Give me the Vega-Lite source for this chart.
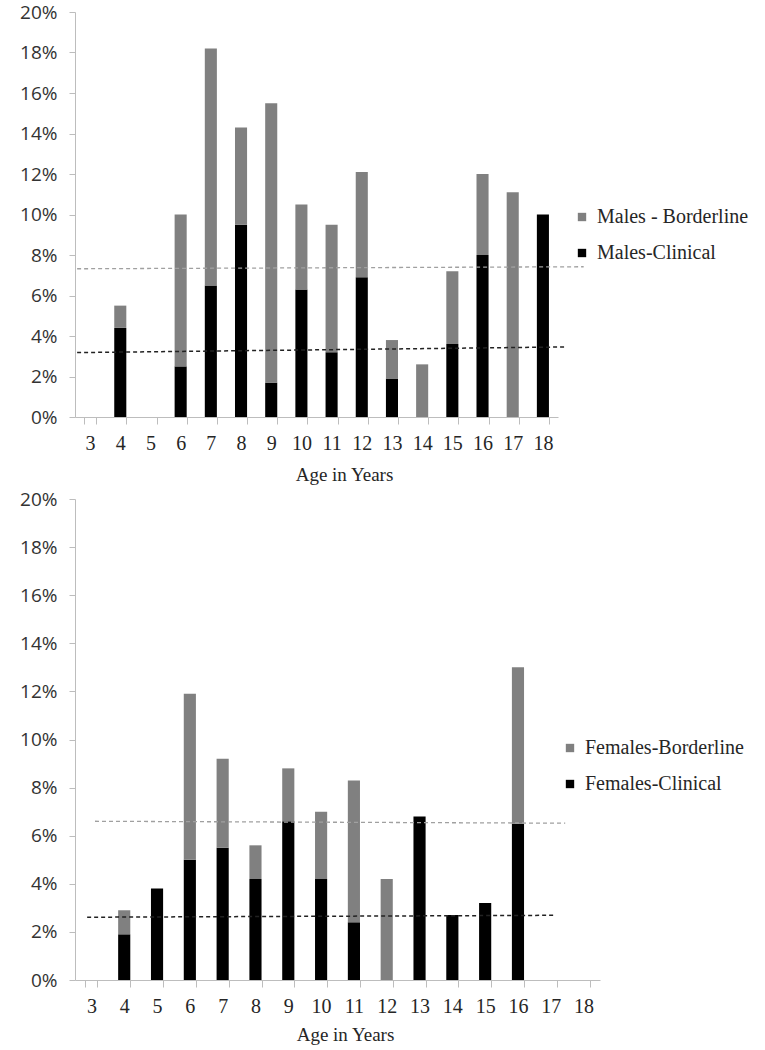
{
  "$schema": "https://vega.github.io/schema/vega-lite/v6.json",
  "padding": {"left": 5, "top": 3, "right": 5, "bottom": 3},
  "background": "white",
  "datasets": {
    "bars": [
      {"sex": "M", "age": 4, "cat": "Males-Clinical", "ord": 0, "pct": 4.4},
      {"sex": "M", "age": 4, "cat": "Males - Borderline", "ord": 1, "pct": 1.1},
      {"sex": "M", "age": 6, "cat": "Males-Clinical", "ord": 0, "pct": 2.5},
      {"sex": "M", "age": 6, "cat": "Males - Borderline", "ord": 1, "pct": 7.5},
      {"sex": "M", "age": 7, "cat": "Males-Clinical", "ord": 0, "pct": 6.5},
      {"sex": "M", "age": 7, "cat": "Males - Borderline", "ord": 1, "pct": 11.7},
      {"sex": "M", "age": 8, "cat": "Males-Clinical", "ord": 0, "pct": 9.5},
      {"sex": "M", "age": 8, "cat": "Males - Borderline", "ord": 1, "pct": 4.8},
      {"sex": "M", "age": 9, "cat": "Males-Clinical", "ord": 0, "pct": 1.7},
      {"sex": "M", "age": 9, "cat": "Males - Borderline", "ord": 1, "pct": 13.8},
      {"sex": "M", "age": 10, "cat": "Males-Clinical", "ord": 0, "pct": 6.3},
      {"sex": "M", "age": 10, "cat": "Males - Borderline", "ord": 1, "pct": 4.2},
      {"sex": "M", "age": 11, "cat": "Males-Clinical", "ord": 0, "pct": 3.2},
      {"sex": "M", "age": 11, "cat": "Males - Borderline", "ord": 1, "pct": 6.3},
      {"sex": "M", "age": 12, "cat": "Males-Clinical", "ord": 0, "pct": 6.9},
      {"sex": "M", "age": 12, "cat": "Males - Borderline", "ord": 1, "pct": 5.2},
      {"sex": "M", "age": 13, "cat": "Males-Clinical", "ord": 0, "pct": 1.9},
      {"sex": "M", "age": 13, "cat": "Males - Borderline", "ord": 1, "pct": 1.9},
      {"sex": "M", "age": 14, "cat": "Males - Borderline", "ord": 1, "pct": 2.6},
      {"sex": "M", "age": 15, "cat": "Males-Clinical", "ord": 0, "pct": 3.6},
      {"sex": "M", "age": 15, "cat": "Males - Borderline", "ord": 1, "pct": 3.6},
      {"sex": "M", "age": 16, "cat": "Males-Clinical", "ord": 0, "pct": 8.0},
      {"sex": "M", "age": 16, "cat": "Males - Borderline", "ord": 1, "pct": 4.0},
      {"sex": "M", "age": 17, "cat": "Males - Borderline", "ord": 1, "pct": 11.1},
      {"sex": "M", "age": 18, "cat": "Males-Clinical", "ord": 0, "pct": 10.0},
      {"sex": "F", "age": 4, "cat": "Females-Clinical", "ord": 0, "pct": 1.9},
      {"sex": "F", "age": 4, "cat": "Females-Borderline", "ord": 1, "pct": 1.0},
      {"sex": "F", "age": 5, "cat": "Females-Clinical", "ord": 0, "pct": 3.8},
      {"sex": "F", "age": 6, "cat": "Females-Clinical", "ord": 0, "pct": 5.0},
      {"sex": "F", "age": 6, "cat": "Females-Borderline", "ord": 1, "pct": 6.9},
      {"sex": "F", "age": 7, "cat": "Females-Clinical", "ord": 0, "pct": 5.5},
      {"sex": "F", "age": 7, "cat": "Females-Borderline", "ord": 1, "pct": 3.7},
      {"sex": "F", "age": 8, "cat": "Females-Clinical", "ord": 0, "pct": 4.2},
      {"sex": "F", "age": 8, "cat": "Females-Borderline", "ord": 1, "pct": 1.4},
      {"sex": "F", "age": 9, "cat": "Females-Clinical", "ord": 0, "pct": 6.6},
      {"sex": "F", "age": 9, "cat": "Females-Borderline", "ord": 1, "pct": 2.2},
      {"sex": "F", "age": 10, "cat": "Females-Clinical", "ord": 0, "pct": 4.2},
      {"sex": "F", "age": 10, "cat": "Females-Borderline", "ord": 1, "pct": 2.8},
      {"sex": "F", "age": 11, "cat": "Females-Clinical", "ord": 0, "pct": 2.4},
      {"sex": "F", "age": 11, "cat": "Females-Borderline", "ord": 1, "pct": 5.9},
      {"sex": "F", "age": 12, "cat": "Females-Borderline", "ord": 1, "pct": 4.2},
      {"sex": "F", "age": 13, "cat": "Females-Clinical", "ord": 0, "pct": 6.8},
      {"sex": "F", "age": 14, "cat": "Females-Clinical", "ord": 0, "pct": 2.7},
      {"sex": "F", "age": 15, "cat": "Females-Clinical", "ord": 0, "pct": 3.2},
      {"sex": "F", "age": 16, "cat": "Females-Clinical", "ord": 0, "pct": 6.5},
      {"sex": "F", "age": 16, "cat": "Females-Borderline", "ord": 1, "pct": 6.5}
    ],
    "trends": [
      {"sex": "M", "series": "gray", "x": 2.57, "y": 7.32},
      {"sex": "M", "series": "gray", "x": 19.35, "y": 7.42},
      {"sex": "M", "series": "black", "x": 2.57, "y": 3.18},
      {"sex": "M", "series": "black", "x": 18.79, "y": 3.46},
      {"sex": "F", "series": "gray", "x": 3.11, "y": 6.6},
      {"sex": "F", "series": "gray", "x": 17.44, "y": 6.52},
      {"sex": "F", "series": "black", "x": 2.87, "y": 2.61},
      {"sex": "F", "series": "black", "x": 17.13, "y": 2.69}
    ]
  },
  "spacing": 6,
  "vconcat": [
    {
      "width": 483,
      "height": 405,
      "resolve": {"scale": {"x": "independent"}},
      "layer": [
        {
          "data": {"name": "bars"},
          "transform": [{"filter": "datum.sex == 'M'"}],
          "mark": {"type": "bar"},
          "encoding": {
            "x": {
              "field": "age", "type": "ordinal",
              "scale": {"domain": [3,4,5,6,7,8,9,10,11,12,13,14,15,16,17,18], "paddingInner": 0.6, "paddingOuter": 0.3},
              "axis": {"title": "Age in Years", "titleX": 269}
            },
            "y": {
              "field": "pct", "type": "quantitative", "stack": "zero",
              "scale": {"domain": [0, 20], "nice": false},
              "axis": {"title": null, "values": [0,2,4,6,8,10,12,14,16,18,20], "labelExpr": "datum.value + '%'"}
            },
            "color": {
              "field": "cat", "type": "nominal",
              "scale": {"domain": ["Males - Borderline", "Males-Clinical"], "range": ["#808080", "#000000"]},
              "legend": {"title": null, "orient": "none", "legendX": 497, "legendY": 195}
            },
            "order": {"field": "ord", "type": "quantitative"}
          }
        },
        {
          "data": {"name": "trends"},
          "transform": [{"filter": "datum.sex == 'M' && datum.series == 'gray'"}],
          "mark": {"type": "line", "color": "#a0a0a0", "strokeWidth": 1.3, "strokeDash": [4, 3], "clip": false},
          "encoding": {
            "x": {"field": "x", "type": "quantitative", "scale": {"domain": [2.5, 18.5], "nice": false, "zero": false}, "axis": null},
            "y": {"field": "y", "type": "quantitative"}
          }
        },
        {
          "data": {"name": "trends"},
          "transform": [{"filter": "datum.sex == 'M' && datum.series == 'black'"}],
          "mark": {"type": "line", "color": "#222222", "strokeWidth": 1.5, "strokeDash": [4, 3], "clip": false},
          "encoding": {
            "x": {"field": "x", "type": "quantitative", "scale": {"domain": [2.5, 18.5], "nice": false, "zero": false}, "axis": null},
            "y": {"field": "y", "type": "quantitative"}
          }
        }
      ]
    },
    {
      "width": 525,
      "height": 481,
      "resolve": {"scale": {"x": "independent"}},
      "layer": [
        {
          "data": {"name": "bars"},
          "transform": [{"filter": "datum.sex == 'F'"}],
          "mark": {"type": "bar"},
          "encoding": {
            "x": {
              "field": "age", "type": "ordinal",
              "scale": {"domain": [3,4,5,6,7,8,9,10,11,12,13,14,15,16,17,18], "paddingInner": 0.63, "paddingOuter": 0.315},
              "axis": {"title": "Age in Years", "titleX": 270, "titlePadding": 9}
            },
            "y": {
              "field": "pct", "type": "quantitative", "stack": "zero",
              "scale": {"domain": [0, 20], "nice": false},
              "axis": {"title": null, "values": [0,2,4,6,8,10,12,14,16,18,20], "labelExpr": "datum.value + '%'"}
            },
            "color": {
              "field": "cat", "type": "nominal",
              "scale": {"domain": ["Females-Borderline", "Females-Clinical"], "range": ["#808080", "#000000"]},
              "legend": {"title": null, "orient": "none", "legendX": 485, "legendY": 239}
            },
            "order": {"field": "ord", "type": "quantitative"}
          }
        },
        {
          "data": {"name": "trends"},
          "transform": [{"filter": "datum.sex == 'F' && datum.series == 'gray'"}],
          "mark": {"type": "line", "color": "#a0a0a0", "strokeWidth": 1.3, "strokeDash": [4, 3], "clip": false},
          "encoding": {
            "x": {"field": "x", "type": "quantitative", "scale": {"domain": [2.5, 18.5], "nice": false, "zero": false}, "axis": null},
            "y": {"field": "y", "type": "quantitative"}
          }
        },
        {
          "data": {"name": "trends"},
          "transform": [{"filter": "datum.sex == 'F' && datum.series == 'black'"}],
          "mark": {"type": "line", "color": "#222222", "strokeWidth": 1.5, "strokeDash": [4, 3], "clip": false},
          "encoding": {
            "x": {"field": "x", "type": "quantitative", "scale": {"domain": [2.5, 18.5], "nice": false, "zero": false}, "axis": null},
            "y": {"field": "y", "type": "quantitative"}
          }
        }
      ]
    }
  ],
  "resolve": {"scale": {"color": "independent"}, "legend": {"color": "independent"}},
  "config": {
    "view": {"stroke": null},
    "axis": {
      "grid": false,
      "domainColor": "#bdbdbd",
      "tickColor": "#bdbdbd",
      "domainWidth": 1,
      "tickWidth": 1
    },
    "axisX": {
      "labelAngle": 0,
      "tickBand": "extent",
      "tickSize": 7,
      "labelPadding": 9,
      "labelFont": "Liberation Serif",
      "labelFontSize": 20,
      "labelColor": "#262626",
      "titleFont": "Liberation Serif",
      "titleFontSize": 19,
      "titleFontWeight": "normal",
      "titleColor": "#262626",
      "titlePadding": 12
    },
    "axisY": {
      "tickSize": 6,
      "labelPadding": 12,
      "minExtent": 70,
      "labelFont": "Open Sans",
      "labelFontSize": 19,
      "labelColor": "#333333"
    },
    "legend": {
      "symbolType": "square",
      "symbolSize": 70,
      "symbolStrokeWidth": 0,
      "labelFont": "Liberation Serif",
      "labelFontSize": 20,
      "labelColor": "#262626",
      "rowPadding": 16,
      "labelOffset": 5,
      "labelLimit": 300
    }
  }
}
